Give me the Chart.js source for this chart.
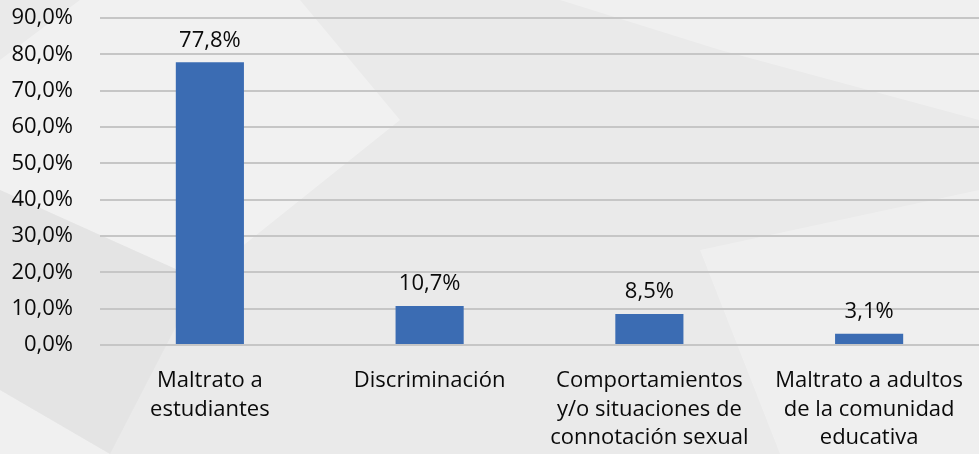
<!DOCTYPE html>
<html><head><meta charset="utf-8">
<script src="https://cdn.jsdelivr.net/npm/chart.js@4/dist/chart.umd.min.js"></script>
<style>
html,body{margin:0;padding:0;background:#e8e8e8;}
#wrap{width:979px;height:454px;position:relative;}
</style></head>
<body><div id="wrap"><canvas id="c" width="979" height="454"></canvas></div>
<script>
const categories = [
  ["Maltrato a", "estudiantes"],
  ["Discriminación"],
  ["Comportamientos", "y/o situaciones de", "connotación sexual"],
  ["Maltrato a adultos", "de la comunidad", "educativa"]
];
const values = [77.8, 10.7, 8.5, 3.1];
const yTicks = [0, 10, 20, 30, 40, 50, 60, 70, 80, 90];

const fmt = v => v.toFixed(1).replace('.', ',') + '%';
const FONT = "'Open Sans', sans-serif";

const bgPlugin = {
  id: 'bg',
  beforeDraw(chart) {
    const ctx = chart.ctx;
    ctx.save();
    ctx.fillStyle = '#eaeaea';
    ctx.fillRect(0, 0, chart.width, chart.height);
    const polys = [
      {c: 'rgba(255,255,255,0.35)', p: [[80,0],[300,0],[400,120],[200,280],[0,190],[0,60]]},
      {c: 'rgba(255,255,255,0.3)', p: [[0,390],[110,454],[0,454]]},
      {c: 'rgba(255,255,255,0.3)', p: [[560,0],[979,0],[979,120],[720,50]]},
      {c: 'rgba(255,255,255,0.25)', p: [[700,250],[979,190],[979,454],[780,454]]},
      {c: 'rgba(215,215,215,0.3)', p: [[0,190],[200,280],[110,454],[0,390]]}
    ];
    polys.forEach(o => {
      ctx.fillStyle = o.c;
      ctx.beginPath();
      o.p.forEach((pt, i) => i ? ctx.lineTo(pt[0], pt[1]) : ctx.moveTo(pt[0], pt[1]));
      ctx.closePath();
      ctx.fill();
    });
    ctx.restore();
  }
};

const labelPlugin = {
  id: 'vlabels',
  afterDatasetsDraw(chart) {
    const ctx = chart.ctx;
    const meta = chart.getDatasetMeta(0);
    ctx.save();
    ctx.font = "22px " + FONT;
    ctx.fillStyle = '#0a0a0a';
    ctx.textAlign = 'center';
    ctx.textBaseline = 'bottom';
    meta.data.forEach((bar, i) => {
      ctx.fillText(fmt(values[i]), bar.x, bar.y - 11);
    });
    ctx.restore();
  }
};

new Chart(document.getElementById('c'), {
  type: 'bar',
  data: {
    labels: categories,
    datasets: [{
      data: values,
      backgroundColor: '#3b6cb3',
      barPercentage: 0.31,
      categoryPercentage: 1
    }]
  },
  options: {
    responsive: false,
    animation: false,
    layout: {padding: {top: 18, right: 0, left: 0, bottom: 0}},
    plugins: {legend: {display: false}, tooltip: {enabled: false}},
    scales: {
      x: {
        grid: {display: false, drawTicks: false},
        border: {display: false},
        ticks: {
          color: '#0a0a0a',
          font: {family: FONT, size: 22, lineHeight: 1.29},
          padding: 22,
          maxRotation: 0,
          autoSkip: false
        },
        afterFit(s) { s.height = 109; s.paddingLeft = 0; s.paddingRight = 0; }
      },
      y: {
        min: 0, max: 90,
        afterBuildTicks(s) { s.ticks = yTicks.map(v => ({value: v})); },
        grid: {color: '#c6c6c6', lineWidth: 2, drawTicks: false},
        border: {display: false},
        ticks: {
          color: '#0a0a0a',
          font: {family: FONT, size: 22},
          padding: 27,
          callback: v => fmt(v)
        },
        afterFit(s) { s.width = 100; s.paddingTop = 0; s.paddingBottom = 0; }
      }
    }
  },
  plugins: [bgPlugin, labelPlugin]
});
</script></body></html>
